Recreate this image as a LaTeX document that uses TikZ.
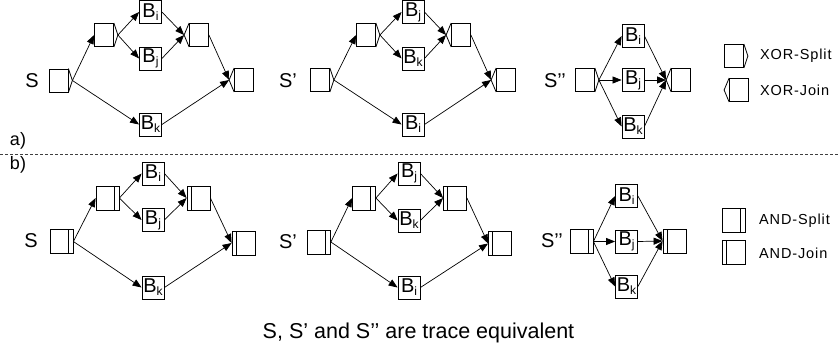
\documentclass[tikz,border=0pt]{standalone}
\usepackage{fontspec}
\setmainfont{Liberation Sans}
\newfontfamily\legfont[LetterSpace=6]{Liberation Sans}
\usetikzlibrary{arrows.meta}
\tikzset{
  shp/.style={line width=0.8pt},
  xbox/.style={shp, draw, rectangle, minimum width=19pt, minimum height=23pt, inner sep=0pt},
  abox/.style={shp, draw, rectangle, minimum width=23pt, minimum height=24pt, inner sep=0pt},
  asplit/.style={abox, path picture={\draw[shp] ([xshift=-5pt]path picture bounding box.north east) -- ([xshift=-5pt]path picture bounding box.south east);}},
  ajoin/.style={abox, path picture={\draw[shp] ([xshift=4pt]path picture bounding box.north west) -- ([xshift=4pt]path picture bounding box.south west);}},
  bbox/.style={shp, draw, rectangle, minimum width=22pt, minimum height=23pt, inner sep=0pt, font=\fontsize{20}{20}\selectfont},
  lab/.style={inner sep=0pt, font=\fontsize{20}{20}\selectfont},
  leg/.style={inner sep=0pt, anchor=west, font=\legfont\fontsize{14.5}{14.5}\selectfont},
  arr/.style={line width=0.7pt, -{Triangle[length=9pt,width=7pt]}}
}
\newcommand{\blab}[1]{B\raisebox{-3pt}{\fontsize{12}{12}\selectfont #1}}
\newcommand{\xsplit}[3]{%
  \node[xbox] (#1) at (#2,#3) {};
  \draw[shp] (#1.north east) -- ([xshift=4pt]#1.east) coordinate (#1t) -- (#1.south east);
}
\newcommand{\xjoin}[3]{%
  \node[xbox] (#1) at (#2,#3) {};
  \draw[shp] (#1.north west) -- ([xshift=-5pt]#1.west) coordinate (#1t) -- (#1.south west);
}
\begin{document}
\begin{tikzpicture}[x=1pt,y=-1pt]
\useasboundingbox (0,0) rectangle (840,354);
% ---------- a) ----------
\node[lab] (a1L) at (32,81) {S};
\xsplit{a1S}{58.5}{80.5}
\xsplit{a1P}{104}{35}
\node[bbox] (a1i) at (150.5,12) {\blab{i}};
\node[bbox] (a1j) at (150.5,58.5) {\blab{j}};
\node[bbox] (a1k) at (150.5,124.5) {\blab{k}};
\xjoin{a1J}{199}{35}
\xjoin{a1F}{244}{80}
\draw[arr] (a1St) -- (a1P.west);
\draw[arr] (a1St) -- (a1k.west);
\draw[arr] (a1Pt) -- (a1i.west);
\draw[arr] (a1Pt) -- (a1j.west);
\draw[arr] (a1i.east) -- (a1Jt);
\draw[arr] (a1j.east) -- (a1Jt);
\draw[arr] (a1J.east) -- (a1Ft);
\draw[arr] (a1k.east) -- (a1Ft);

\node[lab] (a2L) at (288,81) {S’};
\xsplit{a2S}{320}{80}
\xsplit{a2P}{366}{35}
\node[bbox] (a2j) at (413,12) {\blab{j}};
\node[bbox] (a2k) at (413,58.5) {\blab{k}};
\node[bbox] (a2i) at (413,124.5) {\blab{i}};
\xjoin{a2J}{461}{35}
\xjoin{a2F}{506}{80}
\draw[arr] (a2St) -- (a2P.west);
\draw[arr] (a2St) -- (a2i.west);
\draw[arr] (a2Pt) -- (a2j.west);
\draw[arr] (a2Pt) -- (a2k.west);
\draw[arr] (a2j.east) -- (a2Jt);
\draw[arr] (a2k.east) -- (a2Jt);
\draw[arr] (a2J.east) -- (a2Ft);
\draw[arr] (a2i.east) -- (a2Ft);

\node[lab] (a3L) at (555,81) {S’’};
\xsplit{a3S}{585}{80}
\node[bbox] (a3i) at (633,36) {\blab{i}};
\node[bbox] (a3j) at (633,80) {\blab{j}};
\node[bbox] (a3k) at (633,126.5) {\blab{k}};
\xjoin{a3J}{681}{80}
\draw[arr] (a3St) -- (a3i.west);
\draw[arr] (a3St) -- (a3j.west);
\draw[arr] (a3St) -- (a3k.west);
\draw[arr] (a3i.east) -- (a3Jt);
\draw[arr] (a3j.east) -- (a3Jt);
\draw[arr] (a3k.east) -- (a3Jt);

\xsplit{lxs}{734}{56}
\node[leg] (lxsT) at (760,56) {XOR-Split};
\xjoin{lxj}{739}{90}
\node[leg] (lxjT) at (760,90) {XOR-Join};

% ---------- separator ----------
\node[lab, font=\fontsize{18}{18}\selectfont] (la) at (18,141) {a)};
\node[lab, font=\fontsize{18}{18}\selectfont] (lb) at (18,165) {b)};
\draw[line width=0.8pt, black!75, dash pattern=on 3pt off 2pt] (0,154) -- (840,154);

% ---------- b) ----------
\node[lab] (b1L) at (31,241) {S};
\node[asplit] (b1S) at (61.5,241.5) {};
\node[asplit] (b1P) at (107.5,198) {};
\node[bbox] (b1i) at (153,173.5) {\blab{i}};
\node[bbox] (b1j) at (153,220) {\blab{j}};
\node[bbox] (b1k) at (153,287.5) {\blab{k}};
\node[ajoin] (b1J) at (198.5,198) {};
\node[ajoin] (b1F) at (243.5,243) {};
\draw[arr] (b1S.east) -- (b1P.west);
\draw[arr] (b1S.east) -- (b1k.west);
\draw[arr] (b1P.east) -- (b1i.west);
\draw[arr] (b1P.east) -- (b1j.west);
\draw[arr] (b1i.east) -- (b1J.west);
\draw[arr] (b1j.east) -- (b1J.west);
\draw[arr] (b1J.east) -- (b1F.west);
\draw[arr] (b1k.east) -- (b1F.west);

\node[lab] (b2L) at (288,242) {S’};
\node[asplit] (b2S) at (319,242) {};
\node[asplit] (b2P) at (364,198) {};
\node[bbox] (b2j) at (409,173.5) {\blab{j}};
\node[bbox] (b2k) at (409,220.5) {\blab{k}};
\node[bbox] (b2i) at (409,287.5) {\blab{i}};
\node[ajoin] (b2J) at (455,198) {};
\node[ajoin] (b2F) at (500,243.5) {};
\draw[arr] (b2S.east) -- (b2P.west);
\draw[arr] (b2S.east) -- (b2i.west);
\draw[arr] (b2P.east) -- (b2j.west);
\draw[arr] (b2P.east) -- (b2k.west);
\draw[arr] (b2j.east) -- (b2J.west);
\draw[arr] (b2k.east) -- (b2J.west);
\draw[arr] (b2J.east) -- (b2F.west);
\draw[arr] (b2i.east) -- (b2F.west);

\node[lab] (b3L) at (552,241) {S’’};
\node[asplit] (b3S) at (581.5,241.5) {};
\node[bbox] (b3i) at (626.5,196) {\blab{i}};
\node[bbox] (b3j) at (626.5,241.5) {\blab{j}};
\node[bbox] (b3k) at (626.5,286.5) {\blab{k}};
\node[ajoin] (b3J) at (674.5,241) {};
\draw[arr] (b3S.east) -- (b3i.west);
\draw[arr] (b3S.east) -- (b3j.west);
\draw[arr] (b3S.east) -- (b3k.west);
\draw[arr] (b3i.east) -- (b3J.west);
\draw[arr] (b3j.east) -- (b3J.west);
\draw[arr] (b3k.east) -- (b3J.west);

\node[asplit] (las) at (733.5,220) {};
\node[leg] (lasT) at (759,221) {AND-Split};
\node[ajoin] (laj) at (733.5,252.5) {};
\node[leg] (lajT) at (759,253) {AND-Join};

\node[lab, font=\fontsize{21.5}{21.5}\selectfont] (cap) at (418.5,333) {S, S’ and S’’ are trace equivalent};
\end{tikzpicture}
\end{document}
